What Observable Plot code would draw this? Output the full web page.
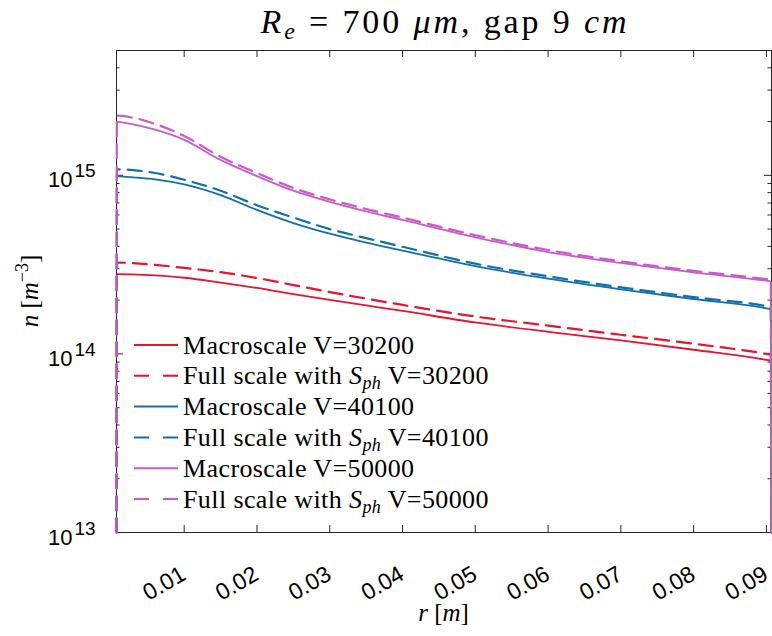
<!DOCTYPE html>
<html>
<head>
<meta charset="utf-8">
<script src="https://cdn.jsdelivr.net/npm/d3@7"></script>
<script src="https://cdn.jsdelivr.net/npm/@observablehq/plot@0.6"></script>
<style>
  html, body { margin: 0; padding: 0; background: #fff; }
  #chart svg { display: block; }
</style>
</head>
<body>
<div id="chart"></div>
<script>
// Radial positions across the gap (m)
const r = [0.00075, 0.003, 0.006, 0.01, 0.015, 0.02, 0.025, 0.03, 0.035, 0.04, 0.05, 0.06, 0.07, 0.08, 0.09, 0.0906];
// Electrode surface (R_e = 700 um) and outer end of the 9 cm gap
const rWall = [0.0007, 0.0907];
// Density at the walls: drops to the floor of the axis
const nWall = 1e13;

// Electron density n (m^-3)
const macro30200 = [2.8e14, 2.79e14, 2.75e14, 2.67e14, 2.51e14, 2.34e14, 2.16e14, 2.01e14, 1.87e14, 1.74e14, 1.5e14, 1.33e14, 1.19e14, 1.055e14, 9.25e13, 9.15e13];
const full30200  = [3.25e14, 3.22e14, 3.15e14, 3.03e14, 2.87e14, 2.66e14, 2.43e14, 2.22e14, 2.04e14, 1.88e14, 1.62e14, 1.44e14, 1.28e14, 1.14e14, 1.0e14, 9.9e13];
const macro40100 = [9.9e14, 9.75e14, 9.5e14, 8.9e14, 7.75e14, 6.4e14, 5.4e14, 4.71e14, 4.2e14, 3.79e14, 3.1e14, 2.64e14, 2.3e14, 2.03e14, 1.8e14, 1.78e14];
const full40100  = [1.08e15, 1.07e15, 1.03e15, 9.45e14, 8.2e14, 6.8e14, 5.8e14, 5.0e14, 4.45e14, 3.98e14, 3.2e14, 2.72e14, 2.36e14, 2.08e14, 1.85e14, 1.83e14];
const macro50000 = [2.0e15, 1.93e15, 1.8e15, 1.58e15, 1.22e15, 9.9e14, 8.2e14, 7.1e14, 6.28e14, 5.63e14, 4.5e14, 3.72e14, 3.23e14, 2.86e14, 2.57e14, 2.55e14];
const full50000  = [2.16e15, 2.1e15, 1.94e15, 1.66e15, 1.27e15, 1.03e15, 8.5e14, 7.33e14, 6.48e14, 5.8e14, 4.62e14, 3.82e14, 3.3e14, 2.92e14, 2.62e14, 2.6e14];

const voltages = ["30200", "40100", "50000"];
const colors = ["#e8132f", "#1170ac", "#c75bc8"];

// Axis ticks
const xTicks = [0.01, 0.02, 0.03, 0.04, 0.05, 0.06, 0.07, 0.08, 0.09];
const yMajor = [1e13, 1e14, 1e15];
const yMinor = [2e13, 3e13, 4e13, 5e13, 6e13, 7e13, 8e13, 9e13,
                2e14, 3e14, 4e14, 5e14, 6e14, 7e14, 8e14, 9e14,
                2e15, 3e15, 4e15];

const series = [
  {values: macro30200, color: colors[0], dashed: false, v: voltages[0]},
  {values: full30200,  color: colors[0], dashed: true,  v: voltages[0]},
  {values: macro40100, color: colors[1], dashed: false, v: voltages[1]},
  {values: full40100,  color: colors[1], dashed: true,  v: voltages[1]},
  {values: macro50000, color: colors[2], dashed: false, v: voltages[2]},
  {values: full50000,  color: colors[2], dashed: true,  v: voltages[2]}
];

// Full-scale profiles start at the electrode wall; all profiles end at the gap edge
function profile(s) {
  const pts = r.map((x, i) => ({r: x, n: s.values[i]}));
  if (s.dashed) pts.unshift({r: rWall[0], n: nWall});
  pts.push({r: rWall[1], n: nWall});
  return pts;
}

const W = 772, H = 636;
const mTop = 50, mLeft = 116, mRight = 1, mBottom = 104;
const fw = W - mLeft - mRight, fh = H - mTop - mBottom;
const axisColor = "#262626";
const dash = "14,8";

const lineMarks = series.map(s => Plot.line(profile(s), {
  x: "r", y: "n", stroke: s.color,
  strokeWidth: s.dashed ? 2.2 : 1.8,
  strokeDasharray: s.dashed ? dash : null,
  curve: "monotone-x"
}));

const chart = Plot.plot({
  width: W, height: H,
  marginTop: mTop, marginLeft: mLeft, marginRight: mRight, marginBottom: mBottom,
  style: {fontFamily: "'Liberation Sans', Arial, sans-serif", fontSize: "22px", background: "#fff"},
  x: {domain: rWall, axis: null},
  y: {type: "log", domain: [1e13, 5e15], axis: null},
  marks: [
    Plot.frame({stroke: axisColor, strokeWidth: 1}),
    // inward ticks on all four sides
    Plot.ruleX(xTicks, {x: d => d, insetTop: fh - 7, stroke: axisColor}),
    Plot.ruleX(xTicks, {x: d => d, insetBottom: fh - 7, stroke: axisColor}),
    Plot.ruleY(yMajor, {y: d => d, insetRight: fw - 7, stroke: axisColor}),
    Plot.ruleY(yMajor, {y: d => d, insetLeft: fw - 7, stroke: axisColor}),
    Plot.ruleY(yMinor, {y: d => d, insetRight: fw - 3.5, stroke: axisColor}),
    Plot.ruleY(yMinor, {y: d => d, insetLeft: fw - 3.5, stroke: axisColor}),
    ...lineMarks,
    // x tick labels, rotated
    Plot.text(xTicks, {
      x: d => d, frameAnchor: "bottom", text: d => d.toFixed(2),
      rotate: -30, textAnchor: "end", lineAnchor: "top",
      dx: -5, dy: 32, fontSize: 23, fill: "#000"
    }),
    // y tick labels as 10 with exponent
    Plot.text(yMajor, {
      y: d => d, frameAnchor: "left", text: () => "10",
      textAnchor: "end", dx: -44, dy: 5, fontSize: 22, fill: "#000"
    }),
    Plot.text(yMajor, {
      y: d => d, frameAnchor: "left", text: d => String(Math.round(Math.log10(d))),
      textAnchor: "start", dx: -42, dy: -4, fontSize: 19, fill: "#000"
    })
  ]
});

document.getElementById("chart").appendChild(chart);

const svg = d3.select(chart);
const serif = "'Liberation Serif', 'Times New Roman', serif";

// Title
const title = svg.append("text")
  .attr("x", mLeft + fw / 2).attr("y", 33)
  .attr("text-anchor", "middle")
  .attr("textLength", 366).attr("lengthAdjust", "spacing")
  .style("font-family", serif).style("font-size", "34px").attr("fill", "#000");
title.append("tspan").style("font-style", "italic").text("R");
title.append("tspan").style("font-style", "italic").style("font-size", "24px").attr("dy", 6).text("e");
title.append("tspan").attr("dy", -6).text(" = 700 ");
title.append("tspan").style("font-style", "italic").text("\u03bcm");
title.append("tspan").text(", gap 9 ");
title.append("tspan").style("font-style", "italic").text("cm");

// x-axis label
const xl = svg.append("text")
  .attr("x", mLeft + fw / 2).attr("y", 621)
  .attr("text-anchor", "middle")
  .style("font-family", serif).style("font-size", "25px").attr("fill", "#000");
xl.append("tspan").style("font-style", "italic").text("r");
xl.append("tspan").text(" [");
xl.append("tspan").style("font-style", "italic").text("m");
xl.append("tspan").text("]");

// y-axis label
const yl = svg.append("text")
  .attr("transform", `translate(38,${mTop + fh / 2}) rotate(-90)`)
  .attr("text-anchor", "middle")
  .style("font-family", serif).style("font-size", "25px").attr("fill", "#000");
yl.append("tspan").style("font-style", "italic").text("n");
yl.append("tspan").text(" [");
yl.append("tspan").style("font-style", "italic").text("m");
yl.append("tspan").style("font-size", "18px").attr("dy", -10).text("\u22123");
yl.append("tspan").attr("dy", 10).text("]");

// Legend
const leg = svg.append("g")
  .attr("text-anchor", "start")
  .style("font-family", serif).style("font-size", "26px").style("letter-spacing", "0.4px");
series.forEach((s, i) => {
  const y = 345 + i * 30.8;
  leg.append("line")
    .attr("x1", 134).attr("x2", 178).attr("y1", y).attr("y2", y)
    .attr("stroke", s.color).attr("stroke-width", 2)
    .attr("stroke-dasharray", s.dashed ? "15,14" : null);
  const t = leg.append("text").attr("x", 183).attr("y", y + 8.5).attr("fill", "#000");
  if (s.dashed) {
    t.append("tspan").text("Full scale with ");
    t.append("tspan").style("font-style", "italic").text("S");
    t.append("tspan").style("font-style", "italic").style("font-size", "18px").attr("dy", 5).text("ph");
    t.append("tspan").attr("dy", -5).text(" V=" + s.v);
  } else {
    t.text("Macroscale V=" + s.v);
  }
});
</script>
</body>
</html>
